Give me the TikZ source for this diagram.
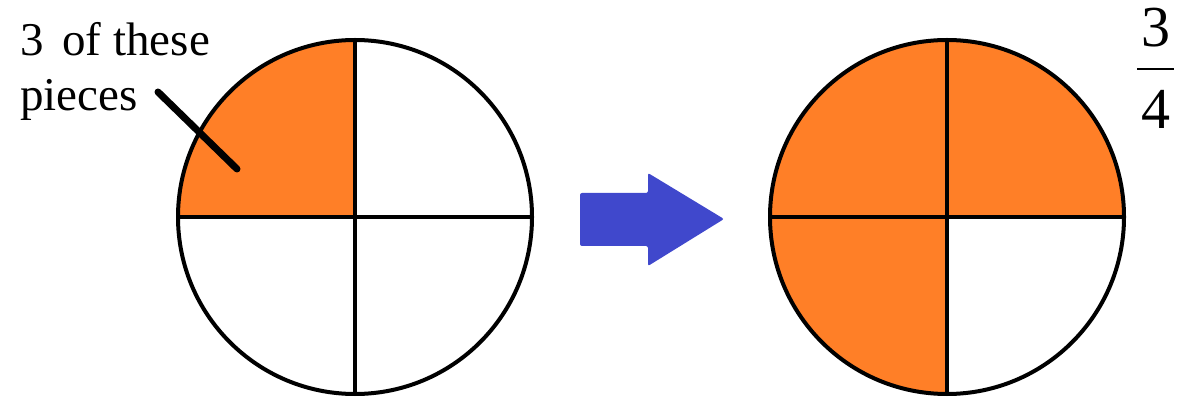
\documentclass[tikz,border=0pt]{standalone}
\usepackage{fontspec}
\setmainfont{Liberation Serif}
\newfontfamily\tnr{Liberation Serif}
\definecolor{piece}{RGB}{255,127,39}
\definecolor{arrowblue}{RGB}{64,72,204}
\begin{document}
\begin{tikzpicture}[x=1pt,y=1pt,
  outline/.style={draw=black,line width=4pt},
  lbl/.style={anchor=base west,inner sep=0pt,font=\tnr\fontsize{47}{55}\selectfont},
  frac/.style={anchor=base,inner sep=0pt,font=\tnr\fontsize{58}{60}\selectfont}]
\useasboundingbox (0,0) rectangle (1193,399);
% left circle
\fill[piece] (355,182) -- (178,182) arc[start angle=180,end angle=90,radius=177] -- cycle;
\draw[outline] (355,182) circle[radius=177];
\draw[outline] (178,182) -- (532,182);
\draw[outline] (355,5) -- (355,359);
% right circle
\fill[piece] (947,182) -- (1124,182) arc[start angle=0,end angle=270,radius=177] -- cycle;
\draw[outline] (947,182) circle[radius=177];
\draw[outline] (770,182) -- (1124,182);
\draw[outline] (947,5) -- (947,359);
% arrow
\fill[arrowblue,rounded corners=2pt] (580,206) -- (648,206) -- (648,226) -- (724,180) -- (648,133) -- (648,153) -- (580,153) -- cycle;
% label
\node[lbl] (l1) at (20,343) {3\hspace{0.15em} of these};
\node[lbl] (l2) at (20,288) {pieces};
\draw[line width=7pt,line cap=round] (158,307) -- (237,230);
% fraction
\node[frac] (num) at (1156,352) {3};
\node[frac] (den) at (1156,270) {4};
\draw[line width=2.5pt] (1137,330) -- (1174,330);
\end{tikzpicture}
\end{document}
